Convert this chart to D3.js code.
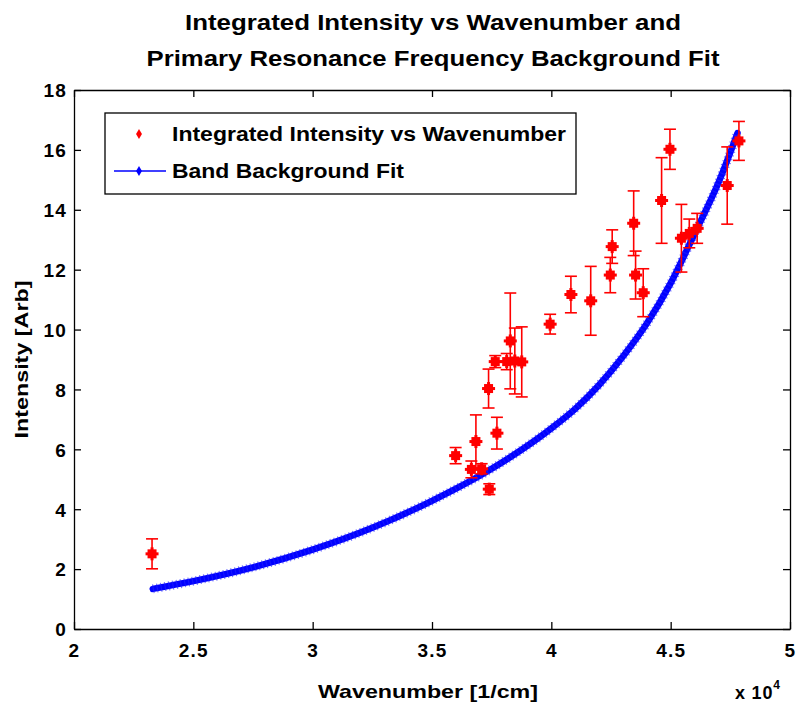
<!DOCTYPE html>
<html>
<head>
<meta charset="utf-8">
<script src="https://cdn.jsdelivr.net/npm/d3@7"></script>
<style>
  body { margin: 0; background: #fff; }
  svg { display: block; }
  text { font-family: "Liberation Sans", Arial, Helvetica, sans-serif; font-weight: bold; fill: #000; }
</style>
</head>
<body>
<svg id="chart" width="796" height="702"></svg>
<script>
// ---- Data (wavenumber in units of 1e4 1/cm) ----
const wavenumber = [2.327, 3.599, 3.665, 3.684, 3.708, 3.740, 3.737, 3.772, 3.765, 3.828,
                    3.813, 3.847, 3.876, 3.995, 4.082, 4.165, 4.247, 4.255, 4.345, 4.353,
                    4.385, 4.462, 4.497, 4.545, 4.578, 4.611, 4.737, 4.786];
const intensity  = [2.51, 5.79, 5.33, 6.26, 5.35, 4.67, 8.03, 6.54, 8.93, 9.62,
                    8.93, 8.95, 8.92, 10.18, 11.17, 10.96, 11.82, 12.77, 13.55, 11.82,
                    11.23, 14.31, 16.02, 13.05, 13.21, 13.38, 14.81, 16.30];
const intensityErr = [0.50, 0.27, 0.28, 0.89, 0.17, 0.18, 0.65, 0.53, 0.20, 1.60,
                      0.27, 1.10, 1.17, 0.33, 0.61, 1.15, 0.59, 0.56, 1.08, 0.80,
                      0.80, 1.43, 0.67, 1.13, 0.48, 0.50, 1.29, 0.65];

const fitWavenumber = [2.33, 2.50, 2.75, 3.00, 3.25, 3.50, 3.75, 4.00, 4.10, 4.20,
                       4.30, 4.40, 4.50, 4.60, 4.70, 4.78];
const fitIntensity  = [1.34, 1.60, 2.06, 2.65, 3.38, 4.28, 5.35, 6.70, 7.35, 8.15,
                       9.10, 10.20, 11.55, 13.20, 14.90, 16.56];

const xTicks = [2, 2.5, 3, 3.5, 4, 4.5, 5];
const xTickLabels = ["2", "2.5", "3", "3.5", "4", "4.5", "5"];
const yTicks = [0, 2, 4, 6, 8, 10, 12, 14, 16, 18];
const titleLines = ["Integrated Intensity vs Wavenumber and", "Primary Resonance Frequency Background Fit"];
const legendLabels = ["Integrated Intensity vs Wavenumber", "Band Background Fit"];

// ---- Layout ----
const svg = d3.select("#chart");
const mLeft = 74, mRight = 790, mTop = 90, mBottom = 629;
const x = d3.scaleLinear().domain([2, 5]).range([mLeft, mRight]);
const y = d3.scaleLinear().domain([0, 18]).range([mBottom, mTop]);
const red = "#ff0000", blue = "#0000ff";

// Title
const titleLens = [496, 573];
svg.selectAll("text.title").data(titleLines).join("text")
  .attr("class", "title")
  .attr("x", 433).attr("y", (d, i) => 30 + i * 36)
  .attr("text-anchor", "middle")
  .attr("textLength", (d, i) => titleLens[i]).attr("lengthAdjust", "spacingAndGlyphs")
  .style("font-size", "22px")
  .text(d => d);

// Axes box
const gx = svg.append("g").attr("transform", `translate(0,${mBottom})`)
  .call(d3.axisBottom(x).tickValues(xTicks).tickFormat((d, i) => xTickLabels[i]).tickSizeInner(-7).tickSizeOuter(0).tickPadding(15));
const gxt = svg.append("g").attr("transform", `translate(0,${mTop})`)
  .call(d3.axisTop(x).tickValues(xTicks).tickFormat("").tickSizeInner(-7).tickSizeOuter(0));
const gy = svg.append("g").attr("transform", `translate(${mLeft},0)`)
  .call(d3.axisLeft(y).tickValues(yTicks).tickSizeInner(-7).tickSizeOuter(0).tickPadding(7));
const gyr = svg.append("g").attr("transform", `translate(${mRight},0)`)
  .call(d3.axisRight(y).tickValues(yTicks).tickFormat("").tickSizeInner(-7).tickSizeOuter(0));
[gx, gxt, gy, gyr].forEach(g => {
  g.selectAll("path.domain").attr("stroke", "#000").attr("stroke-width", 1.3);
  g.selectAll(".tick line").attr("stroke", "#000").attr("stroke-width", 1.3);
  g.selectAll(".tick text").style("font-size", "19px").style("letter-spacing", "1.2px")
    .style("font-family", "'Liberation Sans', Arial, sans-serif").style("font-weight", "bold");
});
gx.selectAll(".tick text").attr("dy", "0.71em");
gy.selectAll(".tick text").attr("dy", "0.36em");

// x 10^4
const mult = svg.append("text").attr("x", 735).attr("y", 699).style("font-size", "18px").style("letter-spacing", "0.8px");
mult.append("tspan").text("x 10");
mult.append("tspan").attr("dy", -10).style("font-size", "12px").text("4");

// Axis labels
svg.append("text").attr("x", 428).attr("y", 698).attr("text-anchor", "middle")
  .attr("textLength", 220).attr("lengthAdjust", "spacingAndGlyphs")
  .style("font-size", "18.5px").text("Wavenumber [1/cm]");
svg.append("text").attr("transform", `translate(28,${(mTop + mBottom) / 2}) rotate(-90)`)
  .attr("text-anchor", "middle").attr("textLength", 158).attr("lengthAdjust", "spacingAndGlyphs")
  .style("font-size", "18.5px").text("Intensity [Arb]");

// Fit line
const fitData = fitWavenumber.map((v, i) => [v, fitIntensity[i]]);
const line = d3.line().x(d => x(d[0])).y(d => y(d[1])).curve(d3.curveMonotoneX);
svg.append("path").datum(fitData).attr("d", line)
  .attr("fill", "none").attr("stroke", blue).attr("stroke-width", 6.5).attr("stroke-linecap", "round");
svg.append("path").datum(fitData).attr("d", line)
  .attr("fill", "none").attr("stroke", "#2222ff").attr("stroke-width", 9).attr("stroke-dasharray", "1.2,2.8").attr("opacity", 0.6);

// Error bars + markers
const pts = wavenumber.map((v, i) => ({ v, I: intensity[i], e: intensityErr[i] }));
const eb = svg.append("g").attr("stroke", red).attr("stroke-width", 1.6).attr("fill", "none");
pts.forEach(p => {
  const cx = x(p.v), y1 = y(p.I + p.e), y0 = y(p.I - p.e);
  eb.append("line").attr("x1", cx).attr("x2", cx).attr("y1", y1).attr("y2", y0);
  eb.append("line").attr("x1", cx - 6).attr("x2", cx + 6).attr("y1", y1).attr("y2", y1);
  eb.append("line").attr("x1", cx - 6).attr("x2", cx + 6).attr("y1", y0).attr("y2", y0);
});
const mk = svg.append("g").attr("fill", red);
pts.forEach(p => {
  const cx = x(p.v), cy = y(p.I);
  mk.append("rect").attr("x", cx - 4.5).attr("y", cy - 4.5).attr("width", 9).attr("height", 9);
  mk.append("rect").attr("x", cx - 6.5).attr("y", cy - 1.5).attr("width", 13).attr("height", 3);
  mk.append("rect").attr("x", cx - 1.5).attr("y", cy - 6.5).attr("width", 3).attr("height", 13);
});

// Legend
const lg = svg.append("g");
lg.append("rect").attr("x", 105).attr("y", 113).attr("width", 471).attr("height", 81)
  .attr("fill", "#fff").attr("stroke", "#000").attr("stroke-width", 1.3);
lg.append("path").attr("d", d3.symbol(d3.symbolDiamond, 30)()).attr("transform", "translate(139,134)").attr("fill", red);
lg.append("line").attr("x1", 114).attr("x2", 166).attr("y1", 171).attr("y2", 171).attr("stroke", blue).attr("stroke-width", 1.5);
lg.append("path").attr("d", d3.symbol(d3.symbolDiamond, 30)()).attr("transform", "translate(139,171)").attr("fill", blue);
const legLens = [394, 232];
lg.selectAll("text.leg").data(legendLabels).join("text").attr("class", "leg")
  .attr("x", 172).attr("y", (d, i) => 141 + i * 37)
  .attr("textLength", (d, i) => legLens[i]).attr("lengthAdjust", "spacingAndGlyphs")
  .style("font-size", "20px").text(d => d);
</script>
</body>
</html>
